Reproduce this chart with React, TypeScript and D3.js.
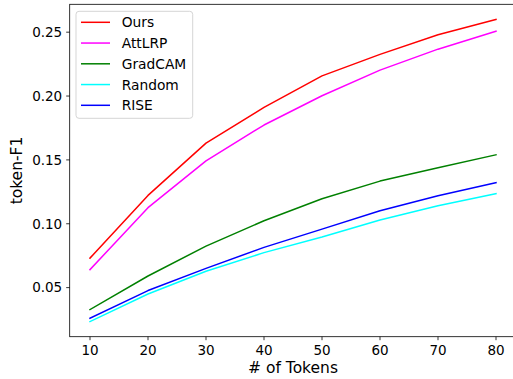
import React from 'react';
import * as d3 from 'd3';

const tokens = [10, 20, 30, 40, 50, 60, 70, 80];
const ours = [0.0731, 0.1222, 0.1631, 0.1911, 0.2158, 0.2326, 0.248, 0.26];
const attLRP = [0.0641, 0.1126, 0.1492, 0.1773, 0.2002, 0.2203, 0.2367, 0.2508];
const gradCAM = [0.0328, 0.0591, 0.0825, 0.1024, 0.1196, 0.1334, 0.1438, 0.154];
const random = [0.0234, 0.045, 0.0628, 0.0774, 0.0896, 0.1029, 0.1141, 0.1236];
const rise = [0.026, 0.0477, 0.0651, 0.0815, 0.0958, 0.1102, 0.122, 0.1321];
const seriesNames = ['Ours', 'AttLRP', 'GradCAM', 'Random', 'RISE'];
const seriesColors = ['#ff0000', '#ff00ff', '#008000', '#00ffff', '#0000ff'];
const yTicks = [0.05, 0.1, 0.15, 0.2, 0.25];

const W = 513;
const H = 379;
const FONT = 'DejaVu Sans, sans-serif';

const App = () => {
  const ref = React.useRef<SVGSVGElement>(null);

  React.useEffect(() => {
    const svg = d3.select(ref.current);
    svg.selectAll('*').remove();

    const series = [ours, attLRP, gradCAM, random, rise];
    const left = 69.7, right = 516.3, top = 4.3, bottom = 336.7;

    // matplotlib style 5% margins
    const xPad = (d3.max(tokens)! - d3.min(tokens)!) * 0.05;
    const x = d3.scaleLinear()
      .domain([d3.min(tokens)! - xPad, d3.max(tokens)! + xPad])
      .range([left, right]);
    const all = series.flat();
    const yMin = d3.min(all)!, yMax = d3.max(all)!;
    const yPad = (yMax - yMin) * 0.05;
    const y = d3.scaleLinear()
      .domain([yMin - yPad, yMax + yPad])
      .range([bottom, top]);

    const line = d3.line<number>()
      .x((_, i) => x(tokens[i]))
      .y((d) => y(d));

    // lines
    const g = svg.append('g');
    series.forEach((s, i) => {
      g.append('path')
        .attr('d', line(s))
        .attr('fill', 'none')
        .attr('stroke', seriesColors[i])
        .attr('stroke-width', 1.5)
        .attr('stroke-linejoin', 'round')
        .attr('stroke-linecap', 'square');
    });

    // spines
    svg.append('rect')
      .attr('x', left)
      .attr('y', top)
      .attr('width', right - left)
      .attr('height', bottom - top)
      .attr('fill', 'none')
      .attr('stroke', '#000')
      .attr('stroke-width', 0.8);

    // x ticks
    const xt = svg.append('g');
    tokens.forEach((t) => {
      xt.append('line')
        .attr('x1', x(t)).attr('x2', x(t))
        .attr('y1', bottom).attr('y2', bottom + 3.5)
        .attr('stroke', '#000').attr('stroke-width', 0.8);
      xt.append('text')
        .attr('x', x(t))
        .attr('y', bottom + 18.5)
        .attr('text-anchor', 'middle')
        .attr('font-family', FONT)
        .attr('font-size', 13.5)
        .attr('fill', '#000')
        .text(t);
    });

    // y ticks
    const yt = svg.append('g');
    yTicks.forEach((t) => {
      yt.append('line')
        .attr('x1', left - 3.5).attr('x2', left)
        .attr('y1', y(t)).attr('y2', y(t))
        .attr('stroke', '#000').attr('stroke-width', 0.8);
      yt.append('text')
        .attr('x', left - 7.5)
        .attr('y', y(t))
        .attr('dy', '0.36em')
        .attr('text-anchor', 'end')
        .attr('font-family', FONT)
        .attr('font-size', 13.5)
        .attr('fill', '#000')
        .text(d3.format('.2f')(t));
    });

    // axis labels
    svg.append('text')
      .attr('x', (left + right) / 2)
      .attr('y', 372.7)
      .attr('text-anchor', 'middle')
      .attr('font-family', FONT)
      .attr('font-size', 15.5)
      .attr('fill', '#000')
      .text('# of Tokens');
    svg.append('text')
      .attr('transform', `translate(21.5,${(top + bottom) / 2}) rotate(-90)`)
      .attr('text-anchor', 'middle')
      .attr('font-family', FONT)
      .attr('font-size', 15.5)
      .attr('fill', '#000')
      .text('token-F1');

    // legend
    const lg = svg.append('g');
    lg.append('rect')
      .attr('x', 76)
      .attr('y', 11.3)
      .attr('width', 116.7)
      .attr('height', 107)
      .attr('rx', 3)
      .attr('fill', '#fff')
      .attr('fill-opacity', 0.8)
      .attr('stroke', '#d5d5d5')
      .attr('stroke-width', 1);
    seriesNames.forEach((name, i) => {
      const cy = 22.3 + i * 20.75;
      lg.append('line')
        .attr('x1', 81).attr('x2', 110)
        .attr('y1', cy).attr('y2', cy)
        .attr('stroke', seriesColors[i])
        .attr('stroke-width', 1.5);
      lg.append('text')
        .attr('x', 121.7)
        .attr('y', cy)
        .attr('dy', '0.36em')
        .attr('font-family', FONT)
        .attr('font-size', 13.8)
        .attr('fill', '#000')
        .text(name);
    });
  }, []);

  return (
    <svg
      ref={ref}
      width={W}
      height={H}
      style={{ position: 'absolute', left: 0, top: 0, background: '#fff' }}
    />
  );
};

export default App;
